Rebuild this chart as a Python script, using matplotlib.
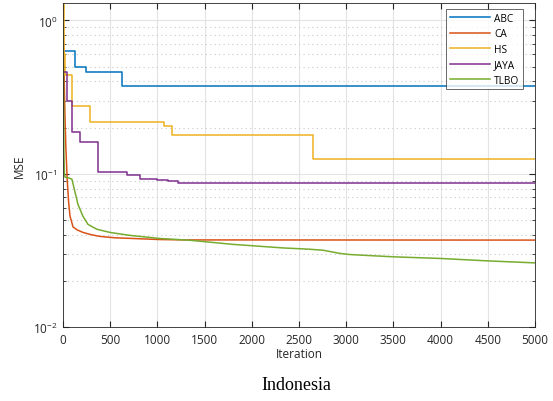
import matplotlib
matplotlib.use("Agg")
import matplotlib.pyplot as plt
from matplotlib.ticker import LogLocator, NullFormatter, FixedLocator

# step curves: (iteration where value starts, value)
abc_x = [0, 127, 244, 625, 5000]
abc_y = [0.63, 0.50, 0.46, 0.372, 0.372]

hs_x = [0, 10, 20, 95, 286, 1070, 1154, 2650, 5000]
hs_y = [1.4, 0.60, 0.44, 0.275, 0.216, 0.205, 0.18, 0.124, 0.124]

jaya_x = [0, 40, 95, 180, 370, 680, 815, 1000, 1110, 1220, 5000]
jaya_y = [0.46, 0.30, 0.186, 0.162, 0.102, 0.098, 0.093, 0.091, 0.089, 0.087, 0.087]

# smooth-ish curves
ca_x = [0, 10, 20, 30, 45, 60, 74, 106, 150, 212, 300, 392, 550, 742, 1028, 1300, 5000]
ca_y = [1.3, 0.5, 0.25, 0.15, 0.09, 0.065, 0.053, 0.045, 0.043, 0.0414, 0.040, 0.039, 0.0382,
        0.0378, 0.0372, 0.0370, 0.0369]

tlbo_x = [0, 5, 10, 15, 21, 60, 95, 127, 159, 212, 265, 360, 498, 710, 1028, 1345, 1801,
          2331, 2600, 2754, 2934, 3040, 3500, 4000, 4500, 5000]
tlbo_y = [0.9, 0.4, 0.135, 0.10, 0.095, 0.094, 0.092, 0.076, 0.063, 0.0527, 0.0467, 0.0434,
          0.0414, 0.0396, 0.0378, 0.0368, 0.0346, 0.0328, 0.0322, 0.0317, 0.0302, 0.0297,
          0.0287, 0.0280, 0.0270, 0.0262]

plt.rcParams["font.family"] = ["Open Sans", "DejaVu Sans"]

fig = plt.figure(figsize=(5.53, 4.02), dpi=100)
ax = fig.add_axes([63 / 553, 74 / 402, 472 / 553, 324 / 402])

lw = 1.1
ax.step(abc_x, abc_y, where="post", color="#0072BD", lw=lw, label="ABC")
ax.plot(ca_x, ca_y, color="#D95319", lw=lw, label="CA")
ax.step(hs_x, hs_y, where="post", color="#EDB120", lw=lw, label="HS")
ax.step(jaya_x, jaya_y, where="post", color="#7E2F8E", lw=lw, label="JAYA")
ax.plot(tlbo_x, tlbo_y, color="#77AC30", lw=lw, label="TLBO")

ax.set_yscale("log")
ax.set_xlim(0, 5000)
ax.set_ylim(0.01, 1.3)
ax.set_xticks(range(0, 5001, 500))
ax.yaxis.set_major_locator(FixedLocator([0.01, 0.1, 1.0]))
ax.set_yticklabels([r"$\mathregular{10^{-2}}$", r"$\mathregular{10^{-1}}$", r"$\mathregular{10^{0}}$"])
ax.yaxis.set_minor_locator(LogLocator(base=10, subs=range(2, 10)))
ax.yaxis.set_minor_formatter(NullFormatter())

ax.grid(True, which="major", color="#e3e3e3", lw=0.8, ls="-")
ax.grid(True, which="minor", axis="y", color="#c8c8c8", lw=0.8, ls=(0, (1, 3)))
ax.set_axisbelow(True)

ax.tick_params(which="both", direction="in", top=True, right=True, colors="#262626",
               labelsize=8.5, labelcolor="#262626")
ax.tick_params(which="major", length=4, pad=4)
ax.tick_params(which="minor", length=2)
for s in ax.spines.values():
    s.set_color("#262626")
    s.set_linewidth(0.6)

ax.set_xlabel("Iteration", fontsize=8.5, color="#262626", labelpad=1)
ax.set_ylabel("MSE", fontsize=8.5, color="#262626", labelpad=5)

leg = ax.legend(loc="upper right", bbox_to_anchor=(1 - 12 / 472, 1 - 6 / 324), borderaxespad=0,
                fontsize=7.3, handlelength=4.0, frameon=True, fancybox=False,
                edgecolor="#262626", labelspacing=0.45, handletextpad=0.4, borderpad=0.35)
leg.get_frame().set_linewidth(0.6)

fig.text(0.535, 0.042, "Indonesia", family="Liberation Serif", fontsize=13, ha="center",
         va="center", color="black")

fig.savefig("out.png", dpi=100)
